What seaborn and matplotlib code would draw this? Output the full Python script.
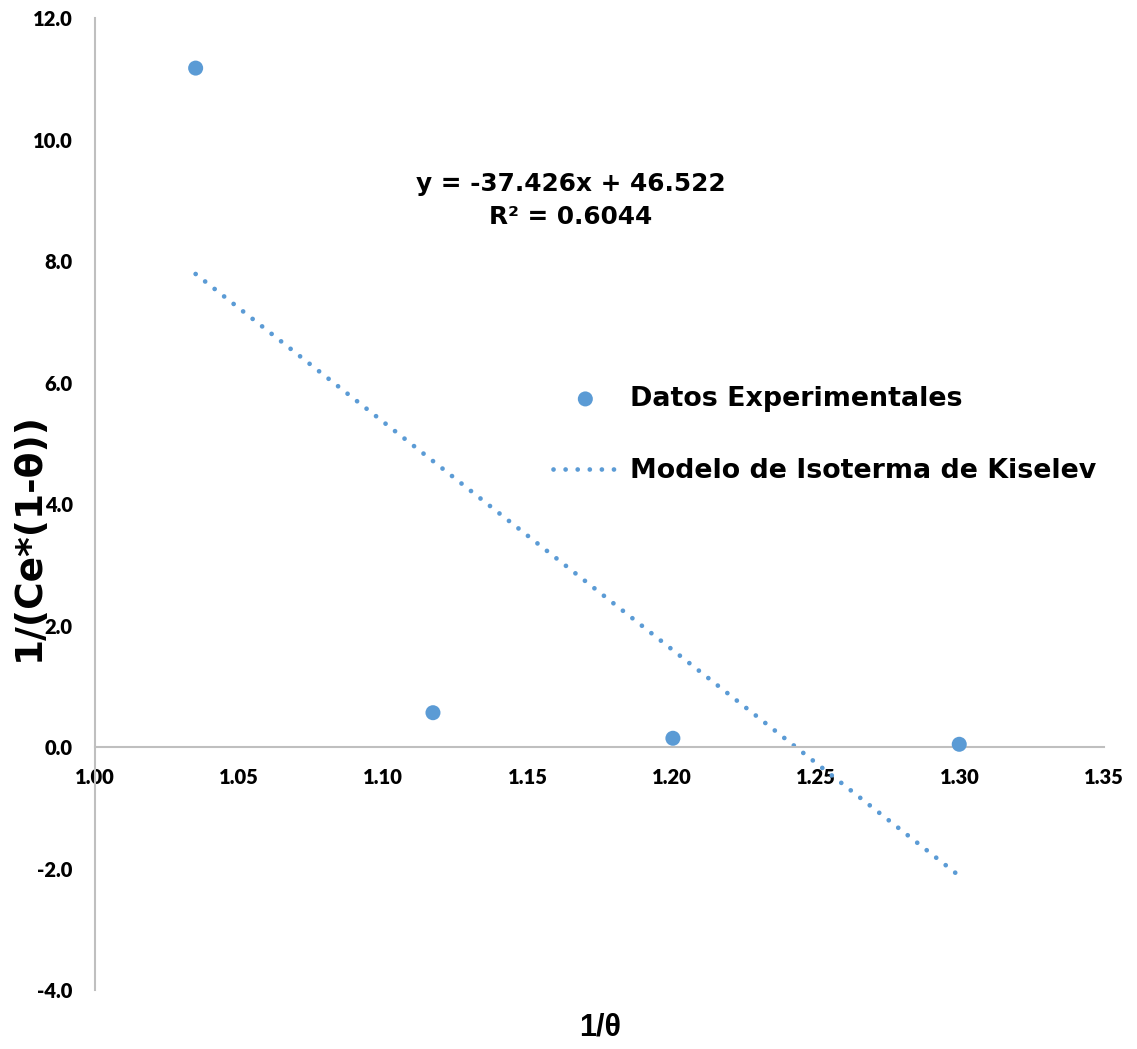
import numpy as np
import matplotlib
matplotlib.use("Agg")
import matplotlib.pyplot as plt
from matplotlib.ticker import FormatStrFormatter, MultipleLocator
import seaborn as sns

# Experimental data: 1/theta versus 1/(Ce*(1-theta))
inv_theta = [1.0349, 1.1172, 1.2004, 1.2997]
inv_ce_term = [11.18, 0.566, 0.145, 0.046]

# Linear fit reported for the Kiselev isotherm
slope = -37.426
intercept = 46.522
r_squared = 0.6044

series_names = ["Datos Experimentales", "Modelo de Isoterma de Kiselev"]
x_title = "1/θ"
y_title = "1/(Ce*(1-θ))"

BLUE = "#5B9BD5"
GRID_GREY = "#BFBFBF"

sns.set_style("white")
plt.rcParams["font.family"] = ["DejaVu Sans"]
plt.rcParams["text.color"] = "black"
plt.rcParams["axes.labelcolor"] = "black"
plt.rcParams["legend.labelcolor"] = "black"

W, H = 1137, 1049
fig = plt.figure(figsize=(W / 100, H / 100), dpi=100)
ax_left, ax_right, ax_top, ax_bottom = 95, 1104.3, 18.3, 990
ax = fig.add_axes([ax_left / W, 1 - ax_bottom / H,
                   (ax_right - ax_left) / W, (ax_bottom - ax_top) / H])

# Data points
sns.scatterplot(x=inv_theta, y=inv_ce_term, ax=ax, s=117, color=BLUE,
                edgecolor="none", linewidth=0, label=series_names[0],
                zorder=3)

# Trend line over the range of the data
x_fit = np.array([min(inv_theta), max(inv_theta)])
y_fit = slope * x_fit + intercept
sns.lineplot(x=x_fit, y=y_fit, ax=ax, color=BLUE, linewidth=3.4,
             label=series_names[1], zorder=2)
trend = ax.lines[-1]
trend.set_linestyle((0, (0.01, 2.55)))
trend.set_dash_capstyle("round")

ax.set_xlim(1.00, 1.35)
ax.set_ylim(-4.0, 12.0)
ax.xaxis.set_major_locator(MultipleLocator(0.05))
ax.yaxis.set_major_locator(MultipleLocator(2.0))
ax.xaxis.set_major_formatter(FormatStrFormatter("%.2f"))
ax.yaxis.set_major_formatter(FormatStrFormatter("%.1f"))

for side in ("top", "right"):
    ax.spines[side].set_visible(False)
ax.spines["bottom"].set_position(("data", 0))
for side in ("left", "bottom"):
    ax.spines[side].set_color(GRID_GREY)
    ax.spines[side].set_linewidth(1.5)

ax.tick_params(axis="both", length=0)
ax.tick_params(axis="x", pad=15)
ax.tick_params(axis="y", pad=16)
for lab in ax.get_xticklabels() + ax.get_yticklabels():
    lab.set_fontfamily(["Lato", "DejaVu Sans"])
    lab.set_fontweight("heavy")
    lab.set_fontsize(14.5)
    lab.set_color("black")

ax.set_xlabel(x_title, fontsize=22, fontweight="bold",
              family=["Liberation Sans", "DejaVu Sans"], va="center")
ax.xaxis.set_label_coords((600.5 - ax_left) / (ax_right - ax_left),
                          (ax_bottom - 1027) / (ax_bottom - ax_top))
ax.set_ylabel(y_title, fontsize=27, fontweight="bold", va="center",
              ha="center")
ax.yaxis.set_label_coords((29 - ax_left) / (ax_right - ax_left),
                          (ax_bottom - 536.5) / (ax_bottom - ax_top))

# Equation of the fitted line
ax.text(1.1649, 9.0,
        f"y = {slope:.3f}x + {intercept:.3f}\nR² = {r_squared:.4f}",
        ha="center", va="center", multialignment="center",
        fontsize=17.8, fontweight="bold", linespacing=1.45, color="black")

handles, labels = ax.get_legend_handles_labels()
leg = ax.legend(handles, labels, loc="upper left",
                bbox_to_anchor=(553 / W, 1 - 386 / H),
                bbox_transform=fig.transFigure, frameon=False,
                borderpad=0, borderaxespad=0, handlelength=2.4,
                handletextpad=0.45, labelspacing=1.71,
                prop={"weight": "bold", "size": 19.4})

fig.savefig("out.png", dpi=100)
